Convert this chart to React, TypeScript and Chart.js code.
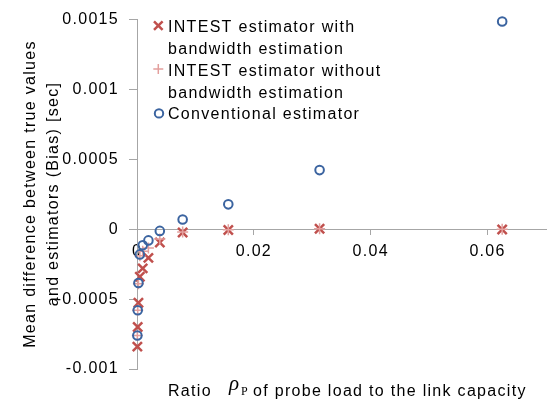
import React, { useEffect, useRef } from 'react';
import { Chart, registerables } from 'chart.js';

Chart.register(...registerables);

// Ratio rho_P of probe load to link capacity
const ratios = [0.000061, 0.000122, 0.000244, 0.000488, 0.000977, 0.001953, 0.003906, 0.0078125, 0.015625, 0.03125, 0.0625];
// Bias values [sec]
const withBandwidth = [-0.00084, -0.0007, -0.000526, -0.00034, -0.00028, -0.000205, -0.000095, -0.000023, -0.000005, 0.000003, -0.000002];
const withoutBandwidth = [-0.00076, -0.00058, -0.00039, -0.00019, -0.000157, -0.000134, -0.00007, -0.00002, -0.000003, 0.000004, 0.0];
const conventional = [-0.00076, -0.00058, -0.000385, -0.00018, -0.000115, -0.00008, -0.000012, 0.00007, 0.000178, 0.000423, 0.001486];

const xTickValues = [0, 0.02, 0.04, 0.06];
const xTickLabels = ['0', '0.02', '0.04', '0.06'];
const yTickValues = [-0.001, -0.0005, 0, 0.0005, 0.001, 0.0015];
const yTickLabels = ['-0.001', '-0.0005', '0', '0.0005', '0.001', '0.0015'];

const legendLines = [
  'INTEST estimator with',
  'bandwidth estimation',
  'INTEST estimator without',
  'bandwidth estimation',
  'Conventional estimator',
];
const yTitleLines = ['Mean difference between true values', 'and estimators (Bias) [sec]'];

const RED = '#c0504d';
const PINK = '#e39f9d';
const BLUE = '#3b64a0';
const AXIS = '#a6a6a6';
const SANS = '"Liberation Sans", Arial, Helvetica, sans-serif';
const SERIF = '"Liberation Serif", "Times New Roman", serif';
const SPACING = '1.3px';

const decorPlugin = {
  id: 'decor',
  beforeLayout(chart: any) {
    chart.ctx.letterSpacing = SPACING;
  },
  beforeDraw(chart: any) {
    chart.ctx.letterSpacing = SPACING;
  },
  afterDraw(chart: any) {
    const ctx = chart.ctx as CanvasRenderingContext2D;
    ctx.save();
    (ctx as any).letterSpacing = SPACING;
    ctx.fillStyle = '#000';
    ctx.font = `16px ${SANS}`;
    ctx.textAlign = 'left';
    ctx.textBaseline = 'alphabetic';

    // Legend
    const baselines = [31.7, 54.3, 76, 98, 119.3];
    legendLines.forEach((t, i) => ctx.fillText(t, 168, baselines[i]));
    // X marker
    ctx.strokeStyle = RED;
    ctx.lineWidth = 2.5;
    ctx.beginPath();
    ctx.moveTo(158.3 - 4.3, 25.6 - 4.3);
    ctx.lineTo(158.3 + 4.3, 25.6 + 4.3);
    ctx.moveTo(158.3 - 4.3, 25.6 + 4.3);
    ctx.lineTo(158.3 + 4.3, 25.6 - 4.3);
    ctx.stroke();
    // + marker
    ctx.strokeStyle = PINK;
    ctx.lineWidth = 1.5;
    ctx.beginPath();
    ctx.moveTo(158.3 - 5, 69);
    ctx.lineTo(158.3 + 5, 69);
    ctx.moveTo(158.3, 64);
    ctx.lineTo(158.3, 74);
    ctx.stroke();
    // circle marker
    ctx.strokeStyle = BLUE;
    ctx.lineWidth = 2;
    ctx.beginPath();
    ctx.arc(159, 113.4, 4.2, 0, Math.PI * 2);
    ctx.stroke();

    // Y title (two rotated lines)
    ctx.fillStyle = '#000';
    ctx.textAlign = 'center';
    const xs = [35, 58];
    yTitleLines.forEach((t, i) => {
      ctx.save();
      ctx.translate(xs[i], 194);
      ctx.rotate(-Math.PI / 2);
      ctx.fillText(t, 0, 0);
      ctx.restore();
    });

    // X title
    ctx.textAlign = 'left';
    ctx.font = `16px ${SANS}`;
    ctx.fillText('Ratio', 168, 396);
    (ctx as any).letterSpacing = '0px';
    ctx.font = `italic 21px ${SERIF}`;
    ctx.fillText('ρ', 229, 390);
    ctx.font = `12px ${SERIF}`;
    ctx.fillText('P', 241, 395);
    (ctx as any).letterSpacing = SPACING;
    ctx.font = `16px ${SANS}`;
    ctx.fillText('of probe load to the link capacity', 253, 396);
    ctx.restore();
  },
};

export default function App() {
  const ref = useRef<HTMLCanvasElement | null>(null);

  useEffect(() => {
    document.body.style.margin = '0';
    const canvas = ref.current;
    if (!canvas) return;
    Chart.defaults.font.family = SANS;
    Chart.defaults.font.size = 16;
    Chart.defaults.color = '#000';

    const mk = (ys: number[]) => ratios.map((x, i) => ({ x, y: ys[i] }));

    const chart = new Chart(canvas, {
      type: 'scatter',
      data: {
        datasets: [
          {
            label: 'INTEST estimator with bandwidth estimation',
            data: mk(withBandwidth),
            pointStyle: 'crossRot',
            pointRadius: 6.5,
            pointBorderWidth: 2.5,
            borderColor: RED,
            backgroundColor: RED,
            order: 3,
            clip: false,
          } as any,
          {
            label: 'INTEST estimator without bandwidth estimation',
            data: mk(withoutBandwidth),
            pointStyle: 'cross',
            pointRadius: 5.5,
            pointBorderWidth: 1.5,
            borderColor: PINK,
            backgroundColor: PINK,
            order: 2,
            clip: false,
          } as any,
          {
            label: 'Conventional estimator',
            data: mk(conventional),
            pointStyle: 'circle',
            pointRadius: 4.3,
            pointBorderWidth: 2,
            borderColor: BLUE,
            backgroundColor: 'rgba(0,0,0,0)',
            order: 1,
            clip: false,
          } as any,
        ],
      },
      options: {
        animation: false,
        responsive: false,
        events: [],
        layout: { padding: { top: 13, right: 1, bottom: 36, left: 0 } },
        plugins: {
          legend: { display: false },
          tooltip: { enabled: false },
        },
        scales: {
          x: {
            type: 'linear',
            position: { y: 0 } as any,
            min: 0,
            max: 0.07,
            afterBuildTicks: (s: any) => {
              s.ticks = xTickValues.map((v) => ({ value: v }));
            },
            ticks: {
              callback: (_v: any, i: number) => xTickLabels[i],
              padding: 8,
              color: '#000',
              maxRotation: 0,
              autoSkip: false,
              font: { size: 16 },
            },
            grid: { drawOnChartArea: false, drawTicks: true, tickLength: 5, color: AXIS },
            border: { color: AXIS, width: 1 },
          },
          y: {
            type: 'linear',
            min: -0.001,
            max: 0.0015,
            afterBuildTicks: (s: any) => {
              s.ticks = yTickValues.map((v) => ({ value: v }));
            },
            afterFit: (s: any) => {
              s.width = 137;
            },
            ticks: {
              callback: (_v: any, i: number) => yTickLabels[i],
              padding: 10,
              color: '#000',
              font: { size: 16 },
            },
            grid: { drawOnChartArea: false, drawTicks: true, tickLength: 8, color: AXIS },
            border: { color: AXIS, width: 1 },
          },
        },
      } as any,
      plugins: [decorPlugin],
    });
    return () => chart.destroy();
  }, []);

  return (
    <div style={{ width: 555, height: 405 }}>
      <canvas ref={ref} width={555} height={405} style={{ display: 'block' }} />
    </div>
  );
}
